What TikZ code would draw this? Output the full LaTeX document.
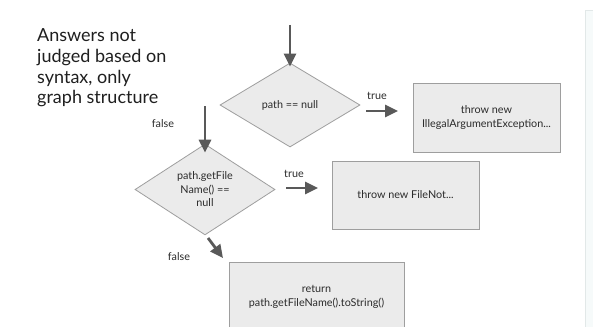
\documentclass[tikz,border=0pt]{standalone}
\usepackage{fontspec}
\setmainfont{Lato}
\usetikzlibrary{shapes.geometric,arrows.meta}
\definecolor{shapefill}{HTML}{EBEBEB}
\definecolor{shapeline}{HTML}{9E9E9E}
\definecolor{arrowgray}{HTML}{595959}
\definecolor{txtgray}{HTML}{2B2B2B}
\definecolor{panefill}{HTML}{F6FAFA}
\definecolor{paneline}{HTML}{E2E8E8}
\tikzset{
  decision/.style={diamond, draw=shapeline, fill=shapefill, line width=0.8pt, inner sep=0pt,
    minimum width=140pt, minimum height=84pt, align=center, font=\fontsize{10.8}{13.5}\selectfont, text=txtgray},
  actionbox/.style={rectangle, draw=shapeline, fill=shapefill, line width=0.8pt, inner sep=0pt,
    align=center, font=\fontsize{10.8}{14.5}\selectfont, text=txtgray},
  flowarrow/.style={draw=arrowgray, line width=2.8pt, -{Triangle[length=13pt,width=12pt]}},
  edgelabel/.style={font=\fontsize{10.8}{12}\selectfont, text=txtgray, inner sep=0pt},
}
\begin{document}
\begin{tikzpicture}[x=1pt,y=-1pt]
\clip (0,0) rectangle (593,326);
\fill[white] (0,0) rectangle (593,326);
% right pane
\draw[draw=paneline, fill=panefill] (585,10) rectangle (600,340);
% note
\node[anchor=north west, align=left, inner sep=0pt, font=\fontsize{18}{20.8}\selectfont, text=black!88] (note) at (37,28.5)
  {Answers not\\judged based on\\syntax, only\\graph structure};
% decisions
\node[decision] (d1) at (290,105) {path == null};
\node[decision] (d2) at (205,189.5) {path.getFile\\Name() ==\\null};
% boxes
\node[actionbox, minimum width=147pt, minimum height=69pt] (b1) at (486.5,117.5) {throw new\\IllegalArgumentException...};
\node[actionbox, minimum width=147pt, minimum height=68pt] (b2) at (405.5,195) {throw new FileNot...};
\node[actionbox, minimum width=175pt, minimum height=70pt] (b3) at (316.5,297) {return\\path.getFileName().toString()};
% arrow end points
\coordinate (s1) at (290,25);
\coordinate (s2) at (205,106);
\coordinate (t1a) at (366,111);
\coordinate (t1b) at (398,111);
\coordinate (t2a) at (286,188);
\coordinate (t2b) at (318,188);
\coordinate (f2a) at (208,238);
\coordinate (f2b) at (223,258);
\draw[flowarrow] (s1) -- ([yshift=-4pt]d1.north);
\draw[flowarrow] (s2) -- ([yshift=-9pt]d2.north);
\draw[flowarrow] (t1a) -- (t1b);
\draw[flowarrow] (t2a) -- (t2b);
\draw[flowarrow] (f2a) -- (f2b);
% labels
\node[edgelabel] (l1) at (377,96) {true};
\node[edgelabel] (l2) at (163,124) {false};
\node[edgelabel] (l3) at (294,174) {true};
\node[edgelabel] (l4) at (179,257) {false};
\end{tikzpicture}
\end{document}
